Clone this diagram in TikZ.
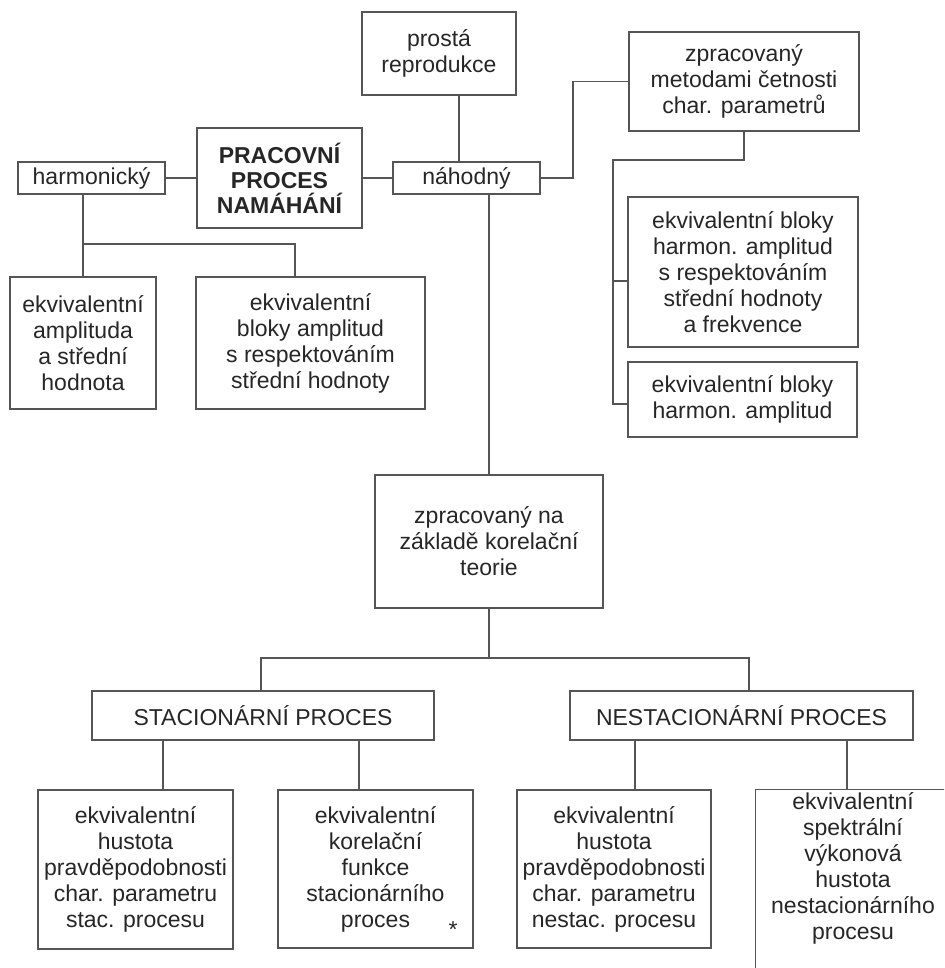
\documentclass[tikz,border=0pt]{standalone}
\usepackage{fontspec}
\setmainfont{Liberation Sans}
\usepackage{tikz}
\usetikzlibrary{calc}
\definecolor{ink}{HTML}{262626}
\definecolor{rule}{HTML}{555555}
\tikzset{
  box/.style={
    draw=rule,
    line width=1.5pt,
    align=center,
    inner sep=0pt,
    text=ink,
    font=\fontsize{23}{26}\selectfont},
  link/.style={
    draw=rule,
    line width=1.5pt}
  }

\begin{document}
\begin{tikzpicture}[x=1pt,y=-1pt]
    \clip (0,0) rectangle (944,968);
    \node[box, minimum width=154pt, minimum height=83pt] (prosta) at (439,53.5) {prostá\\reprodukce};
    \node[box, minimum width=147pt, minimum height=32pt] (harmonicky) at (91.5,178) {harmonický};
    \node[box, minimum width=165pt, minimum height=100pt, font=\fontsize{23}{25}\selectfont\bfseries] (pracovni) at (279.5,178) {PRACOVNÍ\\PROCES\\NAMÁHÁNÍ};
    \node[box, minimum width=147pt, minimum height=32pt] (nahodny) at (466.5,178) {náhodný};
    \node[box, minimum width=230pt, minimum height=99pt] (metodami) at (744,81.5) {zpracovaný\\metodami četnosti\\char. parametrů};
    \node[box, minimum width=146pt, minimum height=132pt] (ekvA) at (83,343) {ekvivalentní\\amplituda\\a střední\\hodnota};
    \node[box, minimum width=229pt, minimum height=132pt] (ekvB) at (310.5,343) {ekvivalentní\\bloky amplitud\\s respektováním\\střední hodnoty};
    \node[box, minimum width=230pt, minimum height=150pt] (blokyA) at (743,272) {ekvivalentní bloky\\harmon. amplitud\\s respektováním\\střední hodnoty\\a frekvence};
    \node[box, minimum width=229pt, minimum height=75pt] (blokyB) at (742.5,399.5) {ekvivalentní bloky\\harmon. amplitud};
    \node[box, minimum width=228pt, minimum height=133pt] (korel) at (489,541.5) {zpracovaný na\\základě korelační\\teorie};
    \node[box, minimum width=342pt, minimum height=49pt] (stac) at (263,715.5) {STACIONÁRNÍ PROCES};
    \node[box, minimum width=343pt, minimum height=49pt] (nestac) at (741.5,715.5) {NESTACIONÁRNÍ PROCES};
    \node[box, minimum width=195pt, minimum height=159pt] (b1) at (135.5,869.5) {ekvivalentní\\hustota\\pravděpodobnosti\\char. parametru\\stac. procesu};
    \node[box, minimum width=195pt, minimum height=158pt] (b2) at (375.5,869) {ekvivalentní\\korelační\\funkce\\stacionárního\\proces};
    \node[box, minimum width=194pt, minimum height=158pt] (b3) at (614,869) {ekvivalentní\\hustota\\pravděpodobnosti\\char. parametru\\nestac. procesu};
    \node[box, draw=none, minimum width=194pt, minimum height=157pt] (b4) at (853,868.5) {ekvivalentní\\spektrální\\výkonová\\hustota\\nestacionárního\\procesu};
    \node[text=ink, font=\fontsize{23}{26}\selectfont] (star) at (453,930) {*};
    \coordinate (pj) at (459,0);
    \coordinate (hl) at (83,244);
    \coordinate (hr) at (295,244);
    \coordinate (nj) at (573,178);
    \coordinate (ml) at (613,160);
    \coordinate (sl) at (261,658);
    \coordinate (sr) at (749,658);
    \draw [link]
    (harmonicky) edge[] (pracovni)
    (pracovni) edge[] (nahodny)
    (pj |- prosta.south) edge[] (pj |- nahodny.north)
    (korel.north |- nahodny.south) edge[] (korel.north)
    (korel.south) edge[] (korel.south |- sl);
    \draw [link] (nahodny.east) -- (nj) |- (metodami.west);
    \draw [link] (metodami.south) |- (ml) |- ([yshift=-9pt]blokyA.west);
    \draw [link] (ml) |- ([yshift=-4.5pt]blokyB.west);
    \draw [link] (harmonicky.south -| hl) -- (ekvA.north);
    \draw [link] (hl) -- (hr) -- (hr |- ekvB.north);
    \draw [link] (sl |- stac.north) -- (sl) -- (sr) -- (sr |- nestac.north);
    \foreach \x/\n in {163/b1, 359/b2}
      \draw [link] (\x,0 |- stac.south) -- (\x,0 |- \n.north);
    \foreach \x/\n in {635/b3, 847/b4}
      \draw [link] (\x,0 |- nestac.south) -- (\x,0 |- \n.north);
    \draw [link] (b4.south west |- 0,990) -- (b4.north west) -- (b4.north east) -- (b4.north east |- 0,990);
  \end{tikzpicture}
\end{document}
